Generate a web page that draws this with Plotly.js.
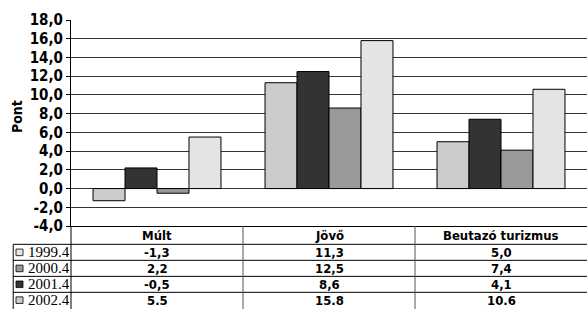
<!DOCTYPE html>
<html>
<head>
<meta charset="utf-8">
<script src="https://cdn.plot.ly/plotly-3.0.1.min.js"></script>
<style>html,body{margin:0;padding:0;background:#fff}#chart{width:587px;height:309px}</style>
</head>
<body>
<div id="chart"></div>
<script>
const categories = ['Múlt', 'Jövő', 'Beutazó turizmus'];
const seriesNames = ['1999.4', '2000.4', '2001.4', '2002.4'];
const s1999 = [-1.3, 11.3, 5.0];
const s2000 = [2.2, 12.5, 7.4];
const s2001 = [-0.5, 8.6, 4.1];
const s2002 = [5.5, 15.8, 10.6];
const yTicks = [-4, -2, 0, 2, 4, 6, 8, 10, 12, 14, 16, 18];
const tableDecimal = [',', ',', ',', '.'];

const seriesValues = [s1999, s2000, s2001, s2002];
const barColors = ['#cccccc', '#333333', '#999999', '#e4e4e4'];
const markerColors = ['#e6e6e6', '#999999', '#333333', '#cccccc'];

const SANS = '"DejaVu Sans Condensed", "DejaVu Sans", sans-serif';
const SERIF = '"Liberation Serif", serif';

const traces = seriesValues.map((vals, i) => ({
  type: 'bar',
  name: seriesNames[i],
  x: categories,
  y: vals,
  marker: { color: barColors[i], line: { color: '#000', width: 1 } },
  hoverinfo: 'skip'
}));

// table geometry (paper coords)
const headerY = -0.045;
const rowY = [-0.128, -0.206, -0.283, -0.360];
const rowLines = [-0.089, -0.1667, -0.2445, -0.322];
const leftX = -0.112;
const bottomY = -0.45;

const shapes = [];
rowLines.forEach(y => shapes.push({ type: 'line', xref: 'paper', yref: 'paper', x0: leftX, x1: 1, y0: y, y1: y, line: { color: '#000', width: 1 } }));
shapes.push({ type: 'line', xref: 'paper', yref: 'paper', x0: leftX, x1: leftX, y0: rowLines[0], y1: bottomY, line: { color: '#000', width: 1 } });
[0, 1 / 3, 2 / 3].forEach((x, k) => shapes.push({ type: 'line', xref: 'paper', yref: 'paper', x0: x, x1: x, y0: 0, y1: bottomY, line: { color: k === 0 ? '#000' : '#555', width: 1 } }));
rowY.forEach((y, i) => shapes.push({ type: 'rect', xref: 'paper', yref: 'paper', x0: -0.1066, x1: -0.093, y0: y - 0.016, y1: y + 0.016, fillcolor: markerColors[i], line: { color: '#000', width: 0.8 } }));

const annotations = [];
annotations.push({ xref: 'paper', yref: 'paper', x: -0.105, y: 0.533, xanchor: 'center', yanchor: 'middle', text: '<b>Pont</b>', textangle: -90, showarrow: false, font: { family: SANS, size: 14, color: '#000' } });
categories.forEach(c => annotations.push({ xref: 'x', yref: 'paper', x: c, y: headerY, xanchor: 'center', yanchor: 'middle', text: '<b>' + c + '</b>', showarrow: false, font: { family: SANS, size: 13, color: '#000' } }));
seriesValues.forEach((vals, i) => {
  annotations.push({ xref: 'paper', yref: 'paper', x: -0.088, xanchor: 'left', yanchor: 'middle', y: rowY[i], text: seriesNames[i], showarrow: false, font: { family: SERIF, size: 15, color: '#000' } });
  vals.forEach((v, j) => annotations.push({ xref: 'x', yref: 'paper', x: categories[j], y: rowY[i], xanchor: 'center', yanchor: 'middle', text: '<b>' + v.toFixed(1).replace('.', tableDecimal[i]) + '</b>', showarrow: false, font: { family: SANS, size: 13, color: '#000' } }));
});

const layout = {
  width: 587, height: 309,
  margin: { l: 71, r: 0, t: 20, b: 83 },
  paper_bgcolor: '#fff', plot_bgcolor: '#fff',
  showlegend: false,
  barmode: 'group', bargap: 0.256, bargroupgap: 0,
  xaxis: { showticklabels: false, ticks: '', showgrid: false, showline: true, linecolor: '#000', linewidth: 1, zeroline: false, fixedrange: true },
  yaxis: {
    range: [-4, 18], tickvals: yTicks, ticktext: yTicks.map(v => v.toFixed(1).replace('.', ',')),
    ticks: 'outside', ticklen: 4, tickcolor: '#000', showline: true, linecolor: '#000', linewidth: 1,
    showgrid: true, gridcolor: '#333', gridwidth: 1, zeroline: true, zerolinecolor: '#333', zerolinewidth: 1,
    tickfont: { family: SANS, size: 15, color: '#000', weight: 'bold' }, fixedrange: true
  },
  shapes: shapes,
  annotations: annotations
};

Plotly.newPlot('chart', traces, layout, { staticPlot: true, displayModeBar: false });
</script>
</body>
</html>
